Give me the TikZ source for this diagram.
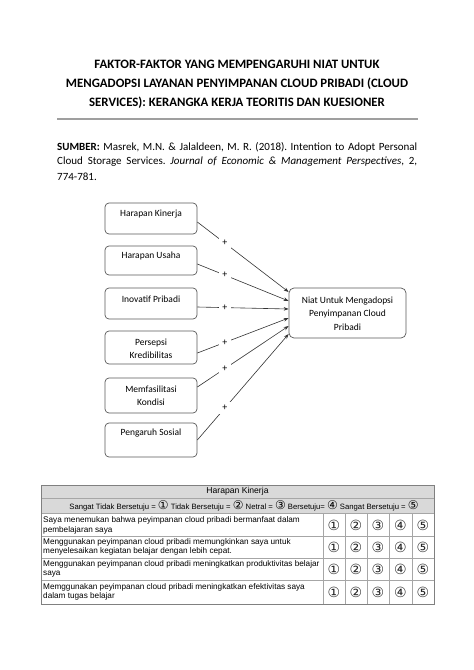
\documentclass[tikz,border=0pt]{standalone}
\usepackage{fontspec}
\setmainfont{Carlito}
\newfontfamily\arialf{Liberation Sans}
\newfontfamily\dvs{DejaVu Sans}
\usetikzlibrary{arrows.meta}
\definecolor{hdrgray}{HTML}{D9D9D9}
\definecolor{linegray}{HTML}{A6A6A6}
\definecolor{outergray}{HTML}{808080}
\frenchspacing
\newcommand{\hcirc}[1]{{\dvs\fontsize{12}{10}\selectfont #1}}
\begin{document}
\begin{tikzpicture}[x=1pt,y=-1pt,
  fbox/.style={draw=black!65, line width=0.7pt, rounded corners=4pt, minimum width=92pt, inner sep=0pt},
  tbox/.style={draw=black!65, line width=0.7pt, rounded corners=5pt, minimum width=117pt, minimum height=50pt, inner sep=0pt},
  lbl/.style={font=\fontsize{9.5}{13}\selectfont, align=center, inner sep=0pt},
  conn/.style={draw=black!80, line width=0.6pt, -{Stealth[length=5pt,width=3.6pt]}},
  plus/.style={fill=white, inner sep=3.5pt, font=\fontsize{10}{12}\selectfont, pos=0.3},
  tcell/.style={anchor=west, align=left, inner sep=0pt, font=\arialf\fontsize{8.2}{9.6}\selectfont},
  circ/.style={inner sep=0pt, text=black!85, font=\dvs\fontsize{14}{14}\selectfont},
  srcl/.style={anchor=west, inner sep=0pt, font=\fontsize{11}{15}\selectfont}
]
\useasboundingbox (0,0) rectangle (474,670);
\fill[white] (0,0) rectangle (474,670);

% title
\node[font=\bfseries\fontsize{12.8}{19}\selectfont, align=center, inner sep=0pt] (title) at (237,84)
  {FAKTOR-FAKTOR YANG MEMPENGARUHI NIAT UNTUK\\
   MENGADOPSI LAYANAN PENYIMPANAN CLOUD PRIBADI (CLOUD\\
   SERVICES): KERANGKA KERJA TEORITIS DAN KUESIONER};
\coordinate (r1) at (57,119);
\coordinate (r2) at (418,119);
\draw[gray!75, line width=1.4pt] (r1) -- (r2);

% source
\node[srcl] (src1) at (57,147) {\makebox[360pt][s]{\textbf{SUMBER:} Masrek, M.N. \& Jalaldeen, M. R. (2018). Intention to Adopt Personal}};
\node[srcl] (src2) at (57,162) {\makebox[360pt][s]{Cloud Storage Services. \textit{Journal of Economic \& Management Perspectives}, 2,}};
\node[srcl] (src3) at (57,177) {774-781.};

% boxes
\node[fbox, minimum height=31pt] (b1) at (151,218.5) {};
\node[lbl] (t1) at (151,214) {Harapan Kinerja};
\node[fbox, minimum height=29pt] (b2) at (151,260.5) {};
\node[lbl] (t2) at (151,256) {Harapan Usaha};
\node[fbox, minimum height=31pt] (b3) at (151,303.5) {};
\node[lbl] (t3) at (151,299) {Inovatif Pribadi};
\node[fbox, minimum height=33pt] (b4) at (151,347.5) {};
\node[lbl] (t4) at (151,348.5) {Persepsi\\Kredibilitas};
\node[fbox, minimum height=35pt] (b5) at (151,395.5) {};
\node[lbl] (t5) at (151,395.5) {Memfasilitasi\\Kondisi};
\node[fbox, minimum height=34pt] (b6) at (151,440) {};
\node[lbl] (t6) at (151,433) {Pengaruh Sosial};

\node[tbox] (tg) at (347.5,313) {};
\node[lbl, font=\fontsize{9.5}{13.5}\selectfont] (tt) at (347.5,313.5) {Niat Untuk Mengadopsi\\Penyimpanan Cloud\\Pribadi};

\draw[conn] ([yshift=-3.5pt]b1.east) -- node[plus]{+} ([yshift=21pt]tg.west);
\draw[conn] ([yshift=-3.5pt]b2.east) -- node[plus]{+} ([yshift=12pt]tg.west);
\draw[conn] ([yshift=-3.5pt]b3.east) -- node[plus]{+} ([yshift=4pt]tg.west);
\draw[conn] ([yshift=-5.5pt]b4.east) -- node[plus]{+} ([yshift=-5pt]tg.west);
\draw[conn] ([yshift=8.5pt]b5.east) -- node[plus]{+} ([yshift=-13pt]tg.west);
\draw[conn] (b6.east) -- node[plus]{+} ([yshift=-21pt]tg.west);

% table
\fill[hdrgray] (41,485) rectangle (434,513.5);
\begin{scope}[draw=linegray, line width=0.5pt]
  \draw (41,498.5) -- (434,498.5);
  \draw (41,513.5) -- (434,513.5);
  \draw (41,536.5) -- (434,536.5);
  \draw (41,558) -- (434,558);
  \draw (41,580.5) -- (434,580.5);
  \foreach \xx in {323,345,367,389,412} \draw (\xx,513.5) -- (\xx,604);
\end{scope}
\draw[outergray, line width=0.8pt] (41,485) rectangle (434,604);

\node[inner sep=0pt, font=\arialf\fontsize{8.6}{10}\selectfont] (h1) at (237.5,491.5) {Harapan Kinerja};
\node[inner sep=0pt, font=\arialf\fontsize{7.7}{10}\selectfont] (h2) at (244,506) {Sangat Tidak Bersetuju = \hcirc{①} Tidak Bersetuju = \hcirc{②} Netral = \hcirc{③} Bersetuju= \hcirc{④} Sangat Bersetuju = \hcirc{⑤}};

\node[tcell] (q1) at (43,525.5) {Saya menemukan bahwa peyimpanan cloud pribadi bermanfaat dalam\\pembelajaran saya};
\node[tcell] (q2) at (43,546.8) {Menggunakan peyimpanan cloud pribadi memungkinkan saya untuk\\menyelesaikan kegiatan belajar dengan lebih cepat.};
\node[tcell] (q3) at (43,568.8) {Menggunakan peyimpanan cloud pribadi meningkatkan produktivitas belajar\\saya};
\node[tcell] (q4) at (43,591.8) {Memggunakan peyimpanan cloud pribadi meningkatkan efektivitas saya\\dalam tugas belajar};

\foreach \yy/\r in {525/1,547/2,569/3,592/4}{
  \node[circ] (c\r a) at (334,\yy) {①};
  \node[circ] (c\r b) at (356,\yy) {②};
  \node[circ] (c\r c) at (378,\yy) {③};
  \node[circ] (c\r d) at (400.5,\yy) {④};
  \node[circ] (c\r e) at (423,\yy) {⑤};
}
\end{tikzpicture}
\end{document}
